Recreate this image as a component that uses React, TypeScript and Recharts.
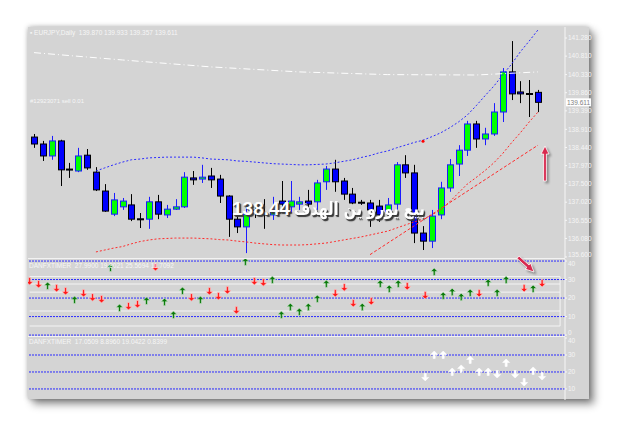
import React from 'react';
import { ComposedChart, Bar, Line, Scatter, XAxis, YAxis, ReferenceLine, ReferenceDot } from 'recharts';

// EURJPY daily candles, oldest first
const opens = [138.71, 138.53, 138.22, 138.61, 137.88, 137.83, 138.24, 137.8, 137.31, 136.71, 136.9, 136.95, 136.59, 136.58, 137.03, 136.69, 136.84, 136.9, 137.65, 137.62, 137.7, 137.62, 137.18, 136.58, 136.38, 136.82, 136.74, 136.69, 137.05, 136.9, 136.97, 137.05, 137.03, 137.55, 137.88, 137.57, 137.23, 137.02, 137.0, 136.92, 136.77, 136.97, 137.99, 137.78, 136.22, 136.01, 136.69, 137.39, 138.01, 138.37, 139.05, 138.66, 138.79, 139.36, 140.4, 139.88, 139.84, 139.87];
const highs = [138.79, 138.61, 138.74, 138.64, 138.04, 138.43, 138.4, 137.93, 137.49, 137.26, 137.13, 137.23, 136.74, 137.16, 137.21, 136.95, 137.1, 137.8, 137.83, 137.99, 137.91, 137.73, 137.2, 136.71, 136.92, 137.0, 137.1, 137.16, 137.57, 137.57, 137.16, 137.34, 137.6, 137.96, 138.12, 137.65, 137.39, 137.08, 137.08, 137.08, 137.13, 138.06, 138.24, 137.99, 136.4, 136.82, 137.55, 138.14, 138.5, 139.13, 139.13, 138.95, 139.59, 140.5, 141.2, 140.16, 140.19, 139.933];
const lows = [138.43, 138.09, 138.12, 137.44, 137.65, 137.8, 137.86, 137.31, 136.77, 136.66, 136.82, 136.53, 136.35, 136.33, 136.58, 136.61, 136.82, 136.87, 137.47, 137.52, 137.39, 137.0, 136.12, 136.22, 135.7, 136.61, 136.33, 136.56, 136.74, 136.74, 136.82, 136.82, 136.82, 137.34, 137.29, 137.08, 136.97, 136.95, 136.38, 136.51, 136.69, 136.82, 137.65, 135.96, 135.78, 135.83, 136.58, 137.29, 137.7, 138.22, 138.43, 138.5, 138.74, 139.1, 139.67, 139.59, 139.23, 139.357];
const closes = [138.53, 138.22, 138.61, 137.86, 137.86, 138.22, 137.91, 137.34, 136.79, 137.08, 137.05, 136.58, 136.58, 137.03, 136.71, 136.84, 136.9, 137.67, 137.6, 137.67, 137.6, 137.18, 136.58, 136.38, 136.71, 136.8, 136.69, 136.82, 136.97, 137.05, 137.03, 136.97, 137.52, 137.88, 137.55, 137.23, 137.0, 137.01, 136.82, 136.69, 136.95, 137.99, 137.78, 136.22, 136.01, 136.66, 137.39, 137.99, 138.37, 139.05, 138.66, 138.79, 139.36, 140.4, 139.83, 139.83, 139.83, 139.611];

const upperBand = [null, null, null, null, null, null, null, 137.83, 137.91, 137.99, 138.06, 138.12, 138.14, 138.17, 138.18, 138.19, 138.19, 138.19, 138.19, 138.17, 138.14, 138.13, 138.12, 138.09, 138.08, 138.06, 138.04, 138.02, 138.01, 138.0, 137.99, 137.99, 138.0, 138.01, 138.04, 138.08, 138.12, 138.18, 138.23, 138.3, 138.35, 138.43, 138.5, 138.57, 138.63, 138.72, 138.82, 138.95, 139.1, 139.28, 139.52, 139.78, 140.03, 140.32, 140.6, 140.92, 141.2, 141.49];
const lowerBand = [null, null, null, null, null, null, null, 135.73, 135.78, 135.83, 135.87, 135.94, 136.0, 136.04, 136.07, 136.08, 136.09, 136.09, 136.09, 136.08, 136.07, 136.05, 136.04, 136.01, 135.99, 135.96, 135.94, 135.92, 135.91, 135.91, 135.91, 135.92, 135.94, 135.96, 136.0, 136.04, 136.08, 136.12, 136.17, 136.22, 136.27, 136.35, 136.43, 136.51, 136.58, 136.69, 136.82, 137.03, 137.26, 137.49, 137.66, 137.84, 138.04, 138.28, 138.56, 138.82, 139.1, 139.36];
// long-term level (white dash-dot)
const levelLine: [number, number][] = [[0, 140.9], [10, 140.71], [20, 140.53], [30, 140.4], [40, 140.33], [50, 140.32], [57, 140.4]];
const trendFrom = { x: 38, y: 135.66 };
const trendTo = { x: 57, y: 138.5 };
const priceTicks = [141.28, 140.81, 140.33, 139.86, 139.39, 138.91, 138.44, 137.97, 137.5, 137.02, 136.55, 136.08, 135.6];

// DANFXTIMER panes: [candle index, value]
const timerUps: [number, number][] = [[2, 26.5], [5, 18.9], [9, 36.2], [10, 14.6], [13, 18.4], [15, 17.8], [16, 10.8], [17, 23.8], [19, 18.9], [24, 39.5], [27, 29.7], [28, 10.8], [29, 15.1], [30, 12.4], [31, 15.1], [32, 19.5], [33, 27.6], [37, 15.1], [39, 27.6], [40, 24.9], [41, 27.6], [45, 34.1], [46, 21.1], [47, 23.2], [48, 20.5], [49, 22.7], [51, 28.1], [52, 22.7], [53, 29.7], [56, 24.9]];
const timerDowns: [number, number][] = [[0, 29.2], [1, 27.6], [3, 25.4], [4, 23.8], [6, 22.7], [7, 20.5], [8, 19.5], [11, 15.7], [12, 16.8], [14, 36.8], [18, 20.5], [20, 23.8], [21, 21.1], [22, 24.3], [23, 13.5], [25, 29.2], [26, 28.6], [34, 22.7], [35, 25.9], [36, 17.3], [38, 18.4], [42, 26.5], [44, 21.6], [50, 22.7], [55, 25.4], [57, 28.1]];
const slowUps: [number, number][] = [[45, 30], [46, 30], [47, 20], [48, 21.8], [49, 27.1], [50, 20], [51, 20], [53, 25.3], [56, 20.6]];
const slowDowns: [number, number][] = [[44, 17.1], [52, 18.8], [54, 18.8], [55, 14.1], [57, 17.6]];
const timerLevels = [0, 10, 20, 30, 40];
const slowTicks = [10, 20, 30, 40];
const slowLevels = [10, 20, 30];
const boxLevels = [31.6, 27.6, 23.2, 13, 4.9];

const SLOTS = 60;
const pick = (pairs: [number, number][], i: number) => {
  const p = pairs.find((q) => q[0] === i);
  return p ? p[1] : null;
};

const rows = Array.from({ length: SLOTS }, (_, i) => {
  const has = i < opens.length;
  return {
    i,
    range: has ? [lows[i], highs[i]] : null,
    open: has ? opens[i] : null,
    high: has ? highs[i] : null,
    low: has ? lows[i] : null,
    close: has ? closes[i] : null,
    upper: has ? upperBand[i] : null,
    lower: has ? lowerBand[i] : null,
    level: pick(levelLine, i),
    tUp: pick(timerUps, i),
    tDown: pick(timerDowns, i),
    sUp: pick(slowUps, i),
    sDown: pick(slowDowns, i),
  };
});

const lastClose = closes[closes.length - 1];

const Candle = (props: any) => {
  const { x, y, width, height, payload } = props;
  if (!payload || payload.high == null) return <g />;
  const { open, close, high, low } = payload;
  const top = Math.min(y, y + height);
  const h = Math.abs(height);
  const k = h / (high - low || 1);
  const bTop = top + (high - Math.max(open, close)) * k;
  const bBot = top + (high - Math.min(open, close)) * k;
  const bull = close > open;
  const cx = Math.round(x + width / 2) + 0.5;
  const edge = bull ? '#1c1cff' : '#000000';
  return (
    <g>
      <line x1={cx} x2={cx} y1={top} y2={top + h} stroke={edge} strokeWidth={1} />
      <rect x={cx - 3} y={bTop} width={6} height={Math.max(bBot - bTop, 1)} fill={bull ? '#00ff00' : '#0000ff'} stroke={edge} strokeWidth={1} />
    </g>
  );
};

const makeArrow = (key: string, up: boolean, color: string, edge: string) => (props: any) => {
  const { cx, cy, payload } = props;
  if (!payload || payload[key] == null || !Number.isFinite(cy)) return <g />;
  const s = up ? 1 : -1;
  const tip = cy - 4 * s;
  const base = cy - 0.5 * s;
  const tail = cy + 3.5 * s;
  const d = `M${cx},${tip} L${cx + 3.5},${base} L${cx + 1},${base} L${cx + 1},${tail} L${cx - 1},${tail} L${cx - 1},${base} L${cx - 3.5},${base} Z`;
  return <path d={d} fill={color} stroke={edge} strokeWidth={0.6} />;
};

const tickStyle = { fill: '#f4f4f4', fontSize: 6.5, fontFamily: 'Liberation Sans, sans-serif' };

// right-axis label, nudged off the pane edges the way the terminal draws them
const makeTick = (fmt: (v: number) => string, top?: number, bottom?: number) => (p: any) => {
  const v = p.payload.value;
  const shift = v === top ? 3 : v === bottom ? -2 : 0;
  return (
    <text x={p.x} y={p.y + shift} dy="0.35em" textAnchor="start" {...tickStyle}>
      {fmt(v)}
    </text>
  );
};

const PriceTag = (props: any) => {
  const vb = props.viewBox || {};
  const x = (vb.x || 0) + (vb.width || 0);
  const y = vb.y || 0;
  return (
    <g>
      <rect x={x + 1} y={y - 4} width={25} height={8} fill="#ffffff" />
      <text x={x + 2} y={y + 2.5} fontSize={6.5} fill="#808080" fontFamily="Liberation Sans, sans-serif">
        {lastClose.toFixed(3)}
      </text>
    </g>
  );
};

const axisLine = { stroke: '#f6f6f6' };
const xPad = { left: 1.6, right: 4.9 };
const CW = 567; // 537 px plot + 30 px price scale
const AXW = 30;
const small: React.CSSProperties = { position: 'absolute', color: '#f6f6f6', fontSize: 6.5, fontFamily: 'Liberation Sans, sans-serif', whiteSpace: 'nowrap', lineHeight: 1 };
const svgVisible = { overflow: 'visible' as const };

export default function App() {
  return (
    <div style={{ position: 'absolute', left: 0, top: 0, width: 625, height: 436, background: '#ffffff', overflow: 'hidden' }}>
      <div style={{ position: 'absolute', left: 28, top: 27, width: 561, height: 372, background: '#d4d4d4', boxShadow: '0 0 5px rgba(0,0,0,0.3), 5px 5px 8px rgba(0,0,0,0.45)' }}>
        <ComposedChart width={CW} height={231} data={rows} margin={{ top: 0, right: 0, bottom: 0, left: 0 }} style={svgVisible}>
          <XAxis dataKey="i" type="category" hide padding={xPad} />
          <YAxis orientation="right" width={AXW} domain={[135.573, 141.565]} allowDataOverflow ticks={priceTicks} interval={0}
            tick={makeTick((v) => v.toFixed(3), undefined, 135.6)} axisLine={axisLine} tickLine={axisLine} tickSize={2} tickMargin={1} />
          <Line dataKey="level" stroke="#ffffff" strokeWidth={1} strokeDasharray="7 3 1 3" dot={false} connectNulls isAnimationActive={false} />
          <Line dataKey="upper" stroke="#2a2aff" strokeWidth={1} strokeDasharray="2 2" dot={false} isAnimationActive={false} />
          <Line dataKey="lower" stroke="#ff2a2a" strokeWidth={1} strokeDasharray="2 2" dot={false} isAnimationActive={false} />
          <ReferenceLine segment={[trendFrom, trendTo]} stroke="#ff2a2a" strokeDasharray="3 2" ifOverflow="hidden" />
          <ReferenceDot x={44} y={138.6} r={1.5} fill="#ff0000" stroke="none" />
          <Bar dataKey="range" barSize={7} shape={Candle} isAnimationActive={false} />
          <ReferenceLine y={lastClose} stroke="none" label={<PriceTag />} />
        </ComposedChart>
        <div style={{ borderTop: '1px solid #f2f2f2', width: 537, height: 77 }}>
          <ComposedChart width={CW} height={77} data={rows} margin={{ top: 0, right: 0, bottom: 0, left: 0 }} style={svgVisible}>
            <XAxis dataKey="i" type="category" hide padding={xPad} />
            <YAxis orientation="right" width={AXW} domain={[-0.5, 41.1]} allowDataOverflow ticks={timerLevels} interval={0}
              tick={makeTick((v) => String(v), 40, 0)} axisLine={axisLine} tickLine={axisLine} tickSize={2} tickMargin={1} />
            {timerLevels.map((v) => (
              <ReferenceLine key={v} y={v} stroke="#2a2aff" strokeDasharray="2 1" />
            ))}
            {boxLevels.map((v) => (
              <ReferenceLine key={'b' + v} segment={[{ x: 0, y: v }, { x: 59, y: v }]} stroke="#f4f4f4" />
            ))}
            <ReferenceLine segment={[{ x: 59, y: boxLevels[0] }, { x: 59, y: boxLevels[4] }]} stroke="#f4f4f4" />
            <Scatter dataKey="tUp" shape={makeArrow('tUp', true, '#0c7a0c', '#cfe8cf')} isAnimationActive={false} />
            <Scatter dataKey="tDown" shape={makeArrow('tDown', false, '#ff1a1a', '#ffd0d0')} isAnimationActive={false} />
          </ComposedChart>
        </div>
        <div style={{ borderTop: '1px solid #f2f2f2', width: 537, height: 63 }}>
          <ComposedChart width={CW} height={63} data={rows} margin={{ top: 0, right: 0, bottom: 0, left: 0 }} style={svgVisible}>
            <XAxis dataKey="i" type="category" hide padding={xPad} />
            <YAxis orientation="right" width={AXW} domain={[3.5, 40.6]} allowDataOverflow ticks={slowTicks} interval={0}
              tick={makeTick((v) => String(v), 40)} axisLine={axisLine} tickLine={axisLine} tickSize={2} tickMargin={1} />
            {slowLevels.map((v) => (
              <ReferenceLine key={v} y={v} stroke="#2a2aff" strokeDasharray="2 1" />
            ))}
            <Scatter dataKey="sUp" shape={makeArrow('sUp', true, '#ffffff', '#ffffff')} isAnimationActive={false} />
            <Scatter dataKey="sDown" shape={makeArrow('sDown', false, '#ffffff', '#ffffff')} isAnimationActive={false} />
          </ComposedChart>
        </div>
      </div>

      <div style={{ ...small, left: 30, top: 30 }}>▪ EURJPY,Daily&nbsp; 139.870 139.933 139.357 139.611</div>
      <div style={{ ...small, left: 30, top: 98, fontSize: 6 }}>#12923071 sell 0.01</div>
      <div style={{ ...small, left: 29, top: 263 }}>DANFXTIMER&nbsp; 27.9900 19.8021 25.5694 11.7092</div>
      <div style={{ ...small, left: 29, top: 339 }}>DANFXTIMER&nbsp; 17.0509 8.8960 19.0422 0.8399</div>

      <div style={{ position: 'absolute', left: 125, top: 199, width: 300, textAlign: 'right', color: '#ffffff', fontWeight: 'bold', lineHeight: 1, whiteSpace: 'nowrap', textShadow: '2px 2px 1px #3a3a3a, 1px 1px 0 #555' }}>
        <span style={{ display: 'inline-block', fontSize: 19, fontFamily: "'Liberation Sans', sans-serif", marginRight: 4 }}>138.44</span>
        <span dir="rtl" style={{ display: 'inline-block', fontSize: 18, fontFamily: "'DejaVu Sans', sans-serif", transform: 'scaleX(0.8)', transformOrigin: 'right center', marginLeft: -33 }}>
          بيع يورو ين الهدف
        </span>
      </div>

      <svg width={625} height={436} style={{ position: 'absolute', left: 0, top: 0, pointerEvents: 'none' }}>
        <g style={{ filter: 'drop-shadow(2px 2px 1px rgba(0,0,0,0.35))' }}>
          <path d="M543.6,181 L546.4,181 L546.4,154 L549,154 L545,146 L541,154 L543.6,154 Z" fill="#d8284e" stroke="#ffffff" strokeWidth={0.8} />
          <path d="M519,256 L529,265 L530.5,263 L534,272 L525,269 L527,267.5 L517,258.5 Z" fill="#d8284e" stroke="#ffffff" strokeWidth={0.8} />
        </g>
      </svg>
    </div>
  );
}
